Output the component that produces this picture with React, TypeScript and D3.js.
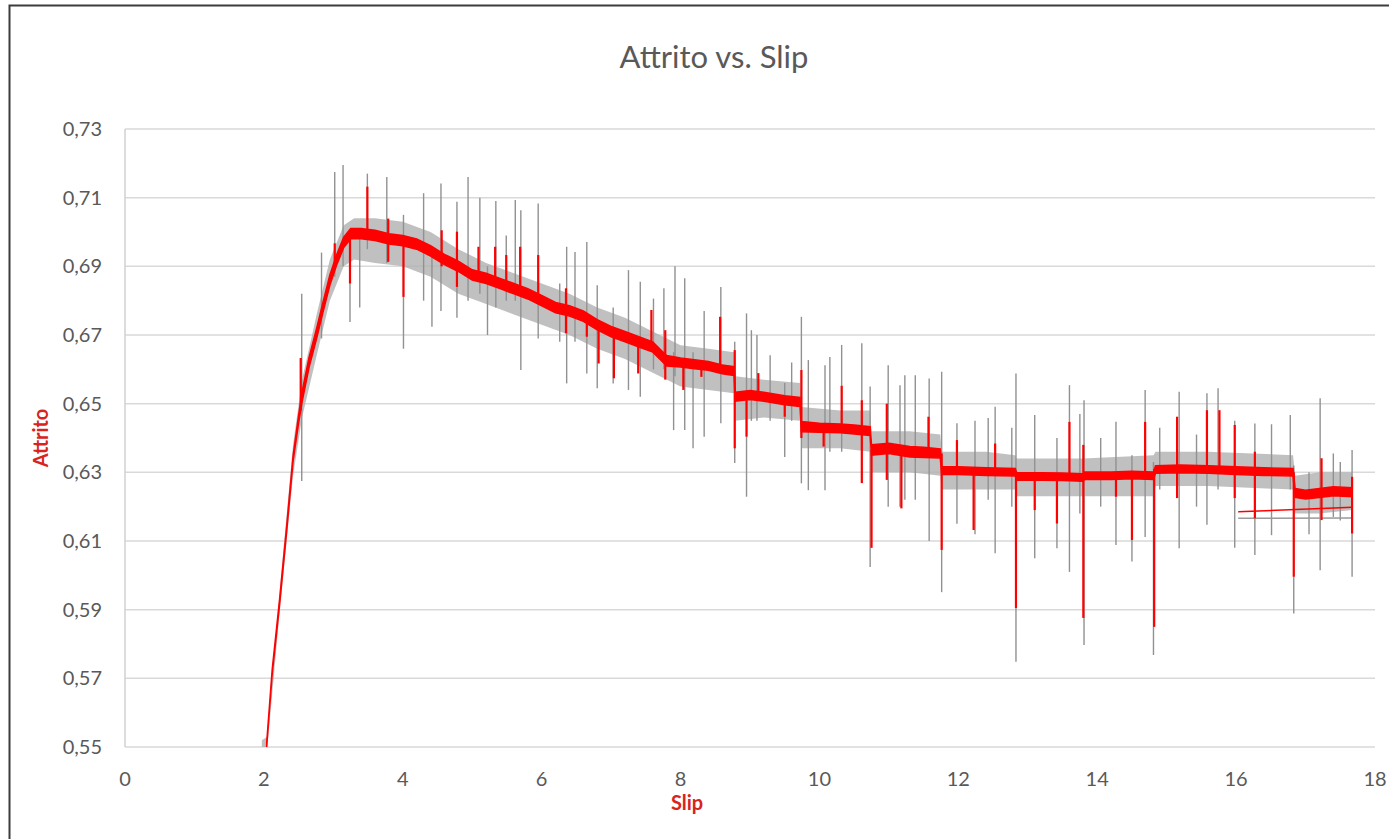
import React from "react";
import * as d3 from "d3";

// ---- data ----
const xTicks = [0, 2, 4, 6, 8, 10, 12, 14, 16, 18];
const yTicks = [0.55, 0.57, 0.59, 0.61, 0.63, 0.65, 0.67, 0.69, 0.71, 0.73];

// gray series: dense noise envelope [slip, low, high]
const grayBand: [number, number, number][] = [
  [1.97, 0.55, 0.552], [2.05, 0.55, 0.553], [2.23, 0.59, 0.596], [2.42, 0.629, 0.638],
  [2.55, 0.646, 0.657], [2.76, 0.664, 0.676], [2.95, 0.68, 0.692], [3.15, 0.69, 0.702],
  [3.3, 0.692, 0.704], [3.6, 0.691, 0.704], [4.0, 0.69, 0.703], [4.4, 0.687, 0.7],
  [4.8, 0.682, 0.695], [5.2, 0.679, 0.691], [5.6, 0.676, 0.688], [6.0, 0.673, 0.685],
  [6.4, 0.67, 0.682], [6.8, 0.666, 0.678], [7.2, 0.663, 0.675], [7.6, 0.659, 0.671],
  [8.0, 0.655, 0.667], [8.4, 0.654, 0.666], [8.77, 0.653, 0.665], [8.79, 0.645, 0.658],
  [9.2, 0.646, 0.657], [9.72, 0.645, 0.656], [9.74, 0.637, 0.649], [10.3, 0.637, 0.648],
  [10.73, 0.636, 0.648], [10.75, 0.63, 0.642], [11.3, 0.63, 0.642], [11.74, 0.629, 0.641],
  [11.76, 0.625, 0.636], [12.4, 0.625, 0.636], [12.82, 0.625, 0.635], [12.84, 0.623, 0.634],
  [13.8, 0.623, 0.634], [14.81, 0.623, 0.635], [14.84, 0.626, 0.636], [15.6, 0.626, 0.636],
  [16.82, 0.625, 0.635], [16.85, 0.618, 0.629], [17.2, 0.618, 0.63], [17.67, 0.619, 0.63],
];

// gray series spikes [slip, low, high]
const graySpikes: [number, number, number][] = [
  [2.545, 0.6275, 0.682], [2.83, 0.669, 0.694], [3.02, 0.687, 0.7175], [3.14, 0.69, 0.7195],
  [3.24, 0.6738, 0.7], [3.38, 0.678, 0.699], [3.49, 0.695, 0.717], [3.77, 0.691, 0.716],
  [4.01, 0.666, 0.705], [4.3, 0.68, 0.7113], [4.42, 0.6724, 0.695], [4.55, 0.677, 0.7141],
  [4.78, 0.675, 0.7088], [4.94, 0.68, 0.716], [5.11, 0.682, 0.71], [5.22, 0.67, 0.69],
  [5.34, 0.678, 0.709], [5.49, 0.68, 0.699], [5.62, 0.68, 0.7093], [5.7, 0.6598, 0.7063],
  [5.95, 0.669, 0.7083], [6.26, 0.668, 0.685], [6.36, 0.6559, 0.6957], [6.48, 0.668, 0.6942],
  [6.65, 0.6588, 0.6971], [6.8, 0.6545, 0.6845], [7.03, 0.6559, 0.678], [7.25, 0.654, 0.6889],
  [7.42, 0.652, 0.6855], [7.61, 0.66, 0.6806], [7.76, 0.66, 0.6836], [7.9, 0.6423, 0.665],
  [7.92, 0.658, 0.69], [8.06, 0.6423, 0.6865], [8.18, 0.637, 0.665], [8.34, 0.6404, 0.677],
  [8.58, 0.6443, 0.684], [8.78, 0.6327, 0.668], [8.95, 0.6229, 0.6763], [9.02, 0.645, 0.6714],
  [9.1, 0.645, 0.67], [9.29, 0.645, 0.6641], [9.5, 0.6345, 0.656], [9.6, 0.645, 0.662],
  [9.74, 0.6268, 0.6753], [9.84, 0.6248, 0.6627], [10.08, 0.6248, 0.6612], [10.15, 0.636, 0.6636],
  [10.32, 0.636, 0.6671], [10.61, 0.6268, 0.6676], [10.73, 0.6024, 0.655], [10.99, 0.62, 0.6612],
  [11.16, 0.62, 0.6554], [11.23, 0.622, 0.6583], [11.38, 0.622, 0.6583], [11.58, 0.61, 0.6573],
  [11.76, 0.5951, 0.6593], [11.98, 0.615, 0.6443], [12.24, 0.612, 0.645], [12.43, 0.622, 0.6458],
  [12.53, 0.6064, 0.6491], [12.77, 0.62, 0.643], [12.83, 0.5748, 0.6588], [13.1, 0.605, 0.6467],
  [13.42, 0.6079, 0.64], [13.6, 0.601, 0.6554], [13.75, 0.618, 0.647], [13.81, 0.5797, 0.651],
  [14.05, 0.62, 0.64], [14.27, 0.6088, 0.6447], [14.5, 0.604, 0.635], [14.69, 0.6112, 0.654],
  [14.81, 0.5768, 0.633], [14.9, 0.625, 0.643], [15.18, 0.6079, 0.6535], [15.43, 0.62, 0.641],
  [15.58, 0.6147, 0.653], [15.74, 0.625, 0.6545], [15.98, 0.608, 0.645], [16.27, 0.6059, 0.6442],
  [16.51, 0.6117, 0.644], [16.78, 0.625, 0.6467], [16.83, 0.5889, 0.632], [17.05, 0.612, 0.63],
  [17.21, 0.6015, 0.6516], [17.4, 0.617, 0.6355], [17.5, 0.616, 0.633], [17.67, 0.5996, 0.6365],
];

// red series: dense envelope [slip, low, high]
const redBand: [number, number, number][] = [
  [2.04, 0.55, 0.5512], [2.12, 0.5713, 0.5727], [2.23, 0.5922, 0.5938], [2.33, 0.6132, 0.6148],
  [2.42, 0.6332, 0.6348], [2.5, 0.6443, 0.6467], [2.55, 0.6505, 0.6535], [2.65, 0.6605, 0.6635],
  [2.76, 0.669, 0.672], [2.85, 0.6765, 0.6795], [2.95, 0.6845, 0.6875], [3.05, 0.6905, 0.6935],
  [3.15, 0.6955, 0.6985], [3.25, 0.698, 0.701], [3.4, 0.698, 0.701], [3.6, 0.6975, 0.7005],
  [3.8, 0.6965, 0.6995], [4.0, 0.696, 0.699], [4.2, 0.695, 0.698], [4.4, 0.693, 0.696],
  [4.6, 0.6905, 0.6935], [4.8, 0.6885, 0.6915], [5.0, 0.686, 0.689], [5.2, 0.685, 0.688],
  [5.4, 0.6835, 0.6865], [5.6, 0.682, 0.685], [5.8, 0.6805, 0.6835], [6.0, 0.6785, 0.6815],
  [6.2, 0.6765, 0.6795], [6.4, 0.6755, 0.6785], [6.6, 0.674, 0.677], [6.8, 0.6715, 0.6745],
  [7.0, 0.6695, 0.6725], [7.2, 0.668, 0.671], [7.4, 0.6665, 0.6695], [7.6, 0.665, 0.668],
  [7.75, 0.662, 0.665], [7.8, 0.661, 0.664], [8.0, 0.6607, 0.6633], [8.2, 0.6602, 0.6628],
  [8.4, 0.6597, 0.6623], [8.6, 0.6587, 0.6613], [8.77, 0.6582, 0.6608], [8.79, 0.6507, 0.6533],
  [9.0, 0.6512, 0.6538], [9.2, 0.6507, 0.6533], [9.5, 0.6497, 0.6523], [9.72, 0.6492, 0.6518],
  [9.74, 0.6418, 0.6448], [10.0, 0.6417, 0.6443], [10.3, 0.6415, 0.6441], [10.5, 0.6412, 0.6438],
  [10.73, 0.6407, 0.6433], [10.75, 0.635, 0.638], [11.0, 0.6355, 0.6385], [11.3, 0.6345, 0.6375],
  [11.5, 0.6343, 0.6373], [11.74, 0.6342, 0.6368], [11.76, 0.6294, 0.6316], [12.0, 0.6294, 0.6316],
  [12.4, 0.6291, 0.6313], [12.82, 0.6289, 0.6311], [12.84, 0.6277, 0.6299], [13.2, 0.6277, 0.6299],
  [13.5, 0.6276, 0.6298], [13.79, 0.6274, 0.6296], [13.82, 0.6279, 0.6301], [14.2, 0.6279, 0.6301],
  [14.5, 0.6281, 0.6303], [14.81, 0.6279, 0.6301], [14.84, 0.6297, 0.6319], [15.2, 0.6299, 0.6321],
  [15.6, 0.6297, 0.6319], [16.0, 0.6294, 0.6316], [16.4, 0.6291, 0.6313], [16.82, 0.6289, 0.6311],
  [16.85, 0.6227, 0.6253], [17.0, 0.6222, 0.6248], [17.2, 0.6227, 0.6253], [17.4, 0.6232, 0.6258],
  [17.67, 0.6229, 0.6255],
];

// red series spikes [slip, low, high]
const redSpikes: [number, number, number][] = [
  [2.53, 0.648, 0.6633], [3.02, 0.69, 0.6967], [3.24, 0.685, 0.699], [3.49, 0.698, 0.7132],
  [3.79, 0.6913, 0.7039], [4.01, 0.6811, 0.697], [4.56, 0.69, 0.7005], [4.78, 0.684, 0.7001],
  [5.09, 0.686, 0.6957], [5.33, 0.684, 0.6957], [5.49, 0.683, 0.6933], [5.69, 0.682, 0.6957],
  [5.95, 0.679, 0.6933], [6.35, 0.6705, 0.6836], [6.65, 0.6695, 0.676], [6.82, 0.6617, 0.673],
  [7.04, 0.6574, 0.671], [7.39, 0.6588, 0.668], [7.58, 0.666, 0.6773], [7.78, 0.657, 0.6714],
  [8.04, 0.654, 0.662], [8.3, 0.6578, 0.661], [8.57, 0.659, 0.6753], [8.78, 0.637, 0.6656],
  [8.95, 0.6404, 0.652], [9.12, 0.652, 0.6589], [9.5, 0.6462, 0.651], [9.74, 0.64, 0.6598],
  [10.06, 0.6375, 0.643], [10.32, 0.642, 0.6552], [10.61, 0.6269, 0.651], [10.75, 0.608, 0.6365],
  [10.97, 0.6278, 0.65], [11.18, 0.6195, 0.636], [11.57, 0.6355, 0.6462], [11.76, 0.6074, 0.6355],
  [11.98, 0.63, 0.6394], [12.22, 0.6132, 0.63], [12.53, 0.63, 0.6384], [12.83, 0.5905, 0.63],
  [13.1, 0.619, 0.6288], [13.42, 0.6151, 0.6288], [13.6, 0.6287, 0.6447], [13.8, 0.5876, 0.638],
  [14.27, 0.6229, 0.629], [14.5, 0.6103, 0.629], [14.69, 0.629, 0.6447], [14.82, 0.585, 0.631],
  [15.15, 0.6225, 0.6462], [15.58, 0.631, 0.6481], [15.76, 0.631, 0.6481], [15.98, 0.6225, 0.6438],
  [16.27, 0.6166, 0.636], [16.83, 0.5996, 0.63], [17.23, 0.6161, 0.6341], [17.67, 0.6122, 0.6287],
];

// closing segments of each series
const grayTail: [number, number][] = [[16.03, 0.6166], [17.67, 0.6167]];
const redTail: [number, number][] = [[16.03, 0.6185], [17.67, 0.6198]];

const W = 1389;
const H = 839;
const FONT = "Lato, 'Open Sans', 'Liberation Sans', sans-serif";

export default function App() {
  const x = d3.scaleLinear().domain([0, 18]).range([125, 1375]);
  const y = d3.scaleLinear().domain([0.55, 0.73]).range([747, 129]);
  const fmt = (v: number) => d3.format(".2f")(v).replace(".", ",");

  const band = d3
    .area<[number, number, number]>()
    .x((d) => x(d[0]))
    .y0((d) => y(d[1]))
    .y1((d) => y(d[2]));
  const line = d3
    .line<[number, number]>()
    .x((d) => x(d[0]))
    .y((d) => y(d[1]));

  return (
    <svg
      width={W}
      height={H}
      style={{ position: "absolute", left: 0, top: 0, background: "#fff" }}
    >
      <defs>
        <clipPath id="plot">
          <rect x={125} y={100} width={1260} height={647} />
        </clipPath>
      </defs>
      <rect x={0} y={0} width={W} height={H} fill="#fff" />
      {/* chart border */}
      <rect x={9.5} y={5.5} width={W + 20} height={H + 20} fill="none" stroke="#3c3c3c" strokeWidth={2} />

      {/* title */}
      <text x={714} y={68} textAnchor="middle" fontFamily={FONT} fontSize={31} fill="#595959">
        Attrito vs. Slip
      </text>

      {/* grid */}
      {yTicks.map((t) => (
        <line key={t} x1={125} x2={1375} y1={y(t)} y2={y(t)} stroke="#d9d9d9" strokeWidth={1.5} />
      ))}
      <line x1={125} x2={125} y1={y(0.73)} y2={y(0.55)} stroke="#d0d0d0" strokeWidth={1.5} />

      {/* y tick labels */}
      {yTicks.map((t) => (
        <text key={t} x={102} y={y(t) + 7} textAnchor="end" fontFamily={FONT} fontSize={20} fill="#595959">
          {fmt(t)}
        </text>
      ))}
      {/* x tick labels */}
      {xTicks.map((t) => (
        <text key={t} x={x(t)} y={786} textAnchor="middle" fontFamily={FONT} fontSize={20} fill="#595959">
          {t}
        </text>
      ))}

      {/* axis titles */}
      <text x={687} y={810} textAnchor="middle" fontFamily={FONT} fontSize={20} fontWeight={700} fill="#d8231f">
        Slip
      </text>
      <text
        transform={`translate(48, 438) rotate(-90)`}
        textAnchor="middle"
        fontFamily={FONT}
        fontSize={20}
        fontWeight={700}
        fill="#d8231f"
      >
        Attrito
      </text>

      <g clipPath="url(#plot)">
        {/* gray series */}
        <path d={band(grayBand) || ""} fill="#b0b0b0" fillOpacity={0.8} stroke="none" />
        {graySpikes.map((s, i) => (
          <line key={i} x1={x(s[0])} x2={x(s[0])} y1={y(s[1])} y2={y(s[2])} stroke="#919191" strokeWidth={1.4} />
        ))}
        <path d={line(grayTail) || ""} fill="none" stroke="#9a9a9a" strokeWidth={1.5} />

        {/* red series */}
        <path d={band(redBand) || ""} fill="#ff0000" stroke="#ff0000" strokeWidth={1.5} />
        {redSpikes.map((s, i) => (
          <line key={i} x1={x(s[0])} x2={x(s[0])} y1={y(s[1])} y2={y(s[2])} stroke="#ff0000" strokeWidth={2.2} />
        ))}
        <path d={line(redTail) || ""} fill="none" stroke="#ff0000" strokeWidth={1.5} />
      </g>
    </svg>
  );
}
